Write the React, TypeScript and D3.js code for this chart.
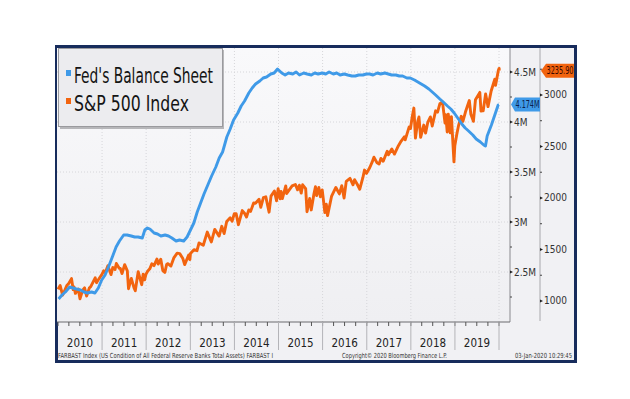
import React from "react";
import * as d3 from "d3";

const fedDates = [
  "2010-01-06","2010-02-03","2010-03-03","2010-04-07","2010-05-05","2010-06-02","2010-07-07","2010-08-04","2010-09-01","2010-10-06","2010-11-03","2010-12-01","2010-12-29",
  "2011-01-26","2011-02-23","2011-03-30","2011-04-27","2011-05-25","2011-06-29","2011-07-27","2011-08-31","2011-09-28","2011-10-26","2011-11-30","2011-12-21",
  "2012-01-11","2012-02-01","2012-03-07","2012-04-04","2012-05-02","2012-06-06","2012-07-04","2012-08-01","2012-09-05","2012-10-03","2012-11-07","2012-12-05",
  "2013-01-02","2013-01-30","2013-02-27","2013-03-27","2013-04-24","2013-05-29","2013-06-26","2013-07-31","2013-08-28","2013-09-25","2013-10-30","2013-11-27","2013-12-25",
  "2014-01-29","2014-02-26","2014-03-26","2014-04-30","2014-05-28","2014-06-25","2014-07-30","2014-08-27","2014-09-24","2014-10-29","2014-11-26","2014-12-24",
  "2015-01-28","2015-02-25","2015-03-25","2015-04-29","2015-05-27","2015-06-24","2015-07-29","2015-08-26","2015-09-30","2015-10-28","2015-11-25","2015-12-30",
  "2016-01-27","2016-02-24","2016-03-30","2016-04-27","2016-05-25","2016-06-29","2016-07-27","2016-08-31","2016-09-28","2016-10-26","2016-11-30","2016-12-28",
  "2017-01-25","2017-02-22","2017-03-29","2017-04-26","2017-05-31","2017-06-28","2017-07-26","2017-08-30","2017-09-27","2017-10-25","2017-11-29","2017-12-27",
  "2018-01-31","2018-02-28","2018-03-28","2018-04-25","2018-05-30","2018-06-27","2018-07-25","2018-08-29","2018-09-26","2018-10-31","2018-11-28","2018-12-26",
  "2019-01-30","2019-02-27","2019-03-27","2019-04-24","2019-05-29","2019-06-26","2019-07-31","2019-08-28","2019-09-11","2019-09-25","2019-10-30","2019-11-27","2019-12-25","2020-01-01"
];
const fedValues = [
  2.23,2.27,2.30,2.35,2.34,2.33,2.32,2.30,2.29,2.30,2.29,2.34,2.42,
  2.47,2.55,2.66,2.75,2.81,2.87,2.87,2.86,2.85,2.85,2.84,2.92,
  2.94,2.93,2.89,2.88,2.86,2.87,2.86,2.84,2.81,2.82,2.81,2.85,
  2.92,2.99,3.10,3.19,3.28,3.38,3.46,3.55,3.64,3.70,3.85,3.93,4.02,
  4.09,4.16,4.21,4.29,4.34,4.38,4.41,4.44,4.45,4.48,4.49,4.53,
  4.49,4.47,4.49,4.48,4.50,4.47,4.49,4.48,4.47,4.49,4.48,4.49,
  4.48,4.50,4.48,4.49,4.47,4.48,4.47,4.46,4.46,4.47,4.47,4.48,
  4.48,4.47,4.49,4.48,4.49,4.48,4.47,4.47,4.46,4.46,4.44,4.44,
  4.42,4.40,4.38,4.36,4.33,4.30,4.27,4.23,4.20,4.16,4.13,4.09,
  4.03,3.98,3.94,3.91,3.87,3.83,3.80,3.77,3.76,3.86,3.97,4.07,4.17,4.174
];

const spxDates = [
  "2010-01-01","2010-01-19","2010-02-08","2010-02-26","2010-03-15","2010-03-31","2010-04-23","2010-05-07","2010-05-14","2010-05-25","2010-06-18","2010-07-02","2010-07-23","2010-08-09","2010-08-26","2010-09-17","2010-09-30","2010-10-15","2010-11-05","2010-11-16","2010-12-01","2010-12-31",
  "2011-01-14","2011-01-28","2011-02-18","2011-03-16","2011-03-31","2011-04-18","2011-04-29","2011-05-23","2011-06-01","2011-06-15","2011-07-07","2011-07-29","2011-08-08","2011-08-31","2011-09-22","2011-10-03","2011-10-27","2011-11-25","2011-12-07","2011-12-19","2011-12-30",
  "2012-01-13","2012-01-31","2012-02-17","2012-03-06","2012-03-30","2012-04-10","2012-05-01","2012-05-18","2012-06-04","2012-06-19","2012-06-29","2012-07-24","2012-08-17","2012-09-14","2012-10-05","2012-10-31","2012-11-15","2012-12-18","2012-12-28",
  "2013-01-02","2013-01-31","2013-02-25","2013-03-14","2013-04-18","2013-05-21","2013-06-24","2013-07-22","2013-08-27","2013-09-18","2013-10-08","2013-10-29","2013-11-27","2013-12-13","2013-12-31",
  "2014-01-15","2014-02-03","2014-03-07","2014-03-27","2014-04-11","2014-04-30","2014-05-15","2014-06-09","2014-06-24","2014-07-24","2014-08-07","2014-08-29","2014-09-18","2014-10-15","2014-10-31","2014-11-28","2014-12-16","2014-12-29",
  "2015-01-15","2015-01-22","2015-02-02","2015-03-02","2015-03-10","2015-04-24","2015-05-21","2015-06-08","2015-06-23","2015-07-08","2015-07-20","2015-08-14","2015-08-25","2015-09-16","2015-09-29","2015-10-20","2015-11-03","2015-11-13","2015-12-01","2015-12-14","2015-12-29",
  "2016-01-20","2016-02-01","2016-02-11","2016-03-15","2016-04-20","2016-05-19","2016-06-08","2016-06-27","2016-07-15","2016-08-15","2016-09-09","2016-09-22","2016-10-14","2016-11-04","2016-11-30","2016-12-13","2016-12-30",
  "2017-01-26","2017-02-15","2017-03-01","2017-03-27","2017-04-13","2017-04-28","2017-05-17","2017-06-19","2017-06-29","2017-07-27","2017-08-18","2017-09-20","2017-10-13","2017-11-08","2017-11-15","2017-12-18","2017-12-29",
  "2018-01-12","2018-01-26","2018-02-08","2018-02-27","2018-03-09","2018-03-23","2018-04-18","2018-05-03","2018-05-21","2018-06-12","2018-06-27","2018-07-25","2018-08-10","2018-08-29","2018-09-20","2018-10-11","2018-10-17","2018-10-29","2018-11-07","2018-11-23","2018-12-03","2018-12-24","2018-12-31",
  "2019-01-15","2019-01-31","2019-02-22","2019-03-08","2019-03-29","2019-04-30","2019-05-13","2019-06-03","2019-06-20","2019-07-26","2019-08-05","2019-08-15","2019-08-23","2019-09-12","2019-10-02","2019-10-28","2019-11-27","2019-12-03","2019-12-27","2020-01-02","2020-01-03"
];
const spxValues = [
  1115,1150,1056,1104,1150,1169,1217,1110,1136,1074,1117,1022,1102,1128,1047,1125,1141,1176,1225,1178,1206,1258,
  1293,1276,1343,1256,1326,1305,1364,1317,1315,1266,1353,1292,1119,1219,1129,1099,1285,1158,1261,1205,1258,
  1289,1312,1361,1343,1408,1358,1405,1295,1278,1357,1362,1339,1418,1465,1460,1412,1353,1446,1402,
  1462,1498,1488,1563,1541,1669,1573,1695,1630,1725,1655,1771,1807,1775,1848,
  1848,1741,1878,1849,1815,1884,1870,1951,1949,1988,1910,2003,2011,1862,2018,2068,1972,2090,
  1992,2063,1994,2117,2044,2117,2131,2079,2124,2047,2128,2091,1867,1995,1884,2030,2109,2023,2102,2012,2078,
  1859,1940,1829,2015,2102,2040,2119,2000,2161,2190,2128,2177,2133,2085,2199,2271,2239,
  2296,2350,2396,2341,2329,2384,2357,2453,2419,2475,2426,2508,2553,2594,2564,2690,2674,
  2786,2873,2581,2744,2786,2588,2708,2630,2733,2787,2699,2846,2833,2914,2931,2728,2809,2641,2814,2633,2790,2351,2507,
  2610,2704,2793,2743,2834,2946,2812,2744,2954,3025,2844,2847,2847,3009,2887,3039,3153,3093,3240,3258,3235.9
];

const years = [2010,2011,2012,2013,2014,2015,2016,2017,2018,2019];
const fedTicks = [2.5,3,3.5,4,4.5];
const fedTickLabels = ["2.5M","3M","3.5M","4M","4.5M"];
const spxTicks = [1000,1500,2000,2500,3000];
const spxTickLabels = ["1000","1500","2000","2500","3000"];
const seriesNames = ["Fed's Balance Sheet","S&P 500 Index"];
const lastFed = 4.174;
const lastSpx = 3235.9;

const BLUE = "#3f9ae8";
const ORANGE = "#f2640f";
const FONT = "'DejaVu Sans Condensed','Liberation Sans Narrow','Roboto Condensed',Roboto,sans-serif";

export default function App() {
  const left = 57, right = 510, top = 48, bottom = 322;
  const parse = d3.timeParse("%Y-%m-%d");
  const x = d3.scaleTime().domain([new Date(2010,0,1), new Date(2020,3,1)]).range([58, right]);
  const yFed = d3.scaleLinear().domain([2.0, 4.74]).range([bottom, top]);
  const ySpx = d3.scaleLinear().domain([796, 3456]).range([bottom, top]);

  const fed = fedDates.map((d, i) => ({ d: parse(d)!, v: fedValues[i] }));
  const spx = spxDates.map((d, i) => ({ d: parse(d)!, v: spxValues[i] }));
  const fedLine = d3.line<{d: Date; v: number}>().x(p => x(p.d)).y(p => yFed(p.v));
  const spxLine = d3.line<{d: Date; v: number}>().x(p => x(p.d)).y(p => ySpx(p.v));

  const yearStarts = d3.range(2011, 2021).map(y => new Date(y, 0, 1));
  const quarters = d3.timeMonth.every(3)!.range(new Date(2010,0,1), new Date(2020,3,1));
  const fedMinor = d3.range(2.25, 4.75, 0.5);
  const spxMinor = d3.range(1250, 3500, 500);

  const fb = yFed(lastFed);
  const sb = ySpx(lastSpx);

  return (
    <svg width={630} height={399} style={{ position: "absolute", left: 0, top: 0, background: "#fff" }} fontFamily={FONT}>
      <defs>
        <linearGradient id="bg" x1="0" y1="0" x2="0" y2="1">
          <stop offset="0" stopColor="#f9f9fb" />
          <stop offset="1" stopColor="#efeff2" />
        </linearGradient>
      </defs>
      <rect x={56.5} y={46.5} width={519} height={315} fill="#f1f1f4" stroke="#172c5c" strokeWidth={3} />
      <rect x={left} y={top} width={right - left} height={bottom - top} fill="url(#bg)" />
      {fedTicks.map(t => (
        <line key={"gh" + t} x1={left} x2={right} y1={yFed(t)} y2={yFed(t)} stroke="#d6d6da" strokeDasharray="1,2" />
      ))}
      {yearStarts.map((d, i) => (
        <line key={"gv" + i} x1={x(d)} x2={x(d)} y1={top} y2={bottom} stroke="#d6d6da" strokeDasharray="1,2" />
      ))}
      <line x1={right} x2={right} y1={top} y2={bottom} stroke="#8a8a8e" />
      <line x1={left} x2={right} y1={bottom} y2={bottom} stroke="#6a6a6e" />
      {quarters.map((d, i) => (
        <line key={"q" + i} x1={x(d)} x2={x(d)} y1={bottom} y2={bottom + 4} stroke="#555" />
      ))}
      {yearStarts.map((d, i) => (
        <line key={"ys" + i} x1={x(d)} x2={x(d)} y1={bottom} y2={350} stroke="#b4b4b8" />
      ))}
      {years.map(yv => (
        <text key={"yl" + yv} x={(x(new Date(yv, 0, 1)) + x(new Date(yv + 1, 0, 1))) / 2} y={347} fontSize={11.5}
          textAnchor="middle" fill="#222" fontStretch="condensed">{yv}</text>
      ))}
      <line x1={540} x2={540} y1={top} y2={bottom - 1} stroke="#a8a8ac" />
      {fedMinor.map(t => (
        <line key={"fm" + t} x1={right} x2={right + 2} y1={yFed(t)} y2={yFed(t)} stroke="#444" />
      ))}
      {fedTicks.map((t, i) => (
        <g key={"ft" + t}>
          <path d={`M${right},${yFed(t) - 1.5}L${right + 3},${yFed(t)}L${right},${yFed(t) + 1.5}Z`} fill="#222" />
          <text x={right + 4} y={yFed(t) + 3.5} fontSize={10} fill="#333" fontStretch="condensed">{fedTickLabels[i]}</text>
        </g>
      ))}
      {spxMinor.map(t => (
        <line key={"sm" + t} x1={540} x2={542} y1={ySpx(t)} y2={ySpx(t)} stroke="#444" />
      ))}
      {spxTicks.map((t, i) => (
        <g key={"st" + t}>
          <path d={`M540,${ySpx(t) - 1.5}L543,${ySpx(t)}L540,${ySpx(t) + 1.5}Z`} fill="#222" />
          <text x={544} y={ySpx(t) + 3.5} fontSize={10} fill="#333" fontStretch="condensed">{spxTickLabels[i]}</text>
        </g>
      ))}
      <path d={spxLine(spx)!} fill="none" stroke={ORANGE} strokeWidth={2.9} strokeLinejoin="round" />
      <path d={fedLine(fed)!} fill="none" stroke={BLUE} strokeWidth={2.9} strokeLinejoin="round" />
      <path d={`M511,${fb}L515,${fb - 7}L540,${fb - 7}L540,${fb + 7}L515,${fb + 7}Z`} fill={BLUE} />
      <text x={527.5} y={fb + 3.5} fontSize={10} textAnchor="middle" fill="#0b1f4d" textLength={24} lengthAdjust="spacingAndGlyphs">4.174M</text>
      <path d={`M541,${sb}L546,${sb - 7}L574,${sb - 7}L574,${sb + 7}L546,${sb + 7}Z`} fill={ORANGE} />
      <text x={560} y={sb + 3.5} fontSize={10} textAnchor="middle" fill="#3a0800" textLength={27} lengthAdjust="spacingAndGlyphs">{lastSpx.toFixed(2)}</text>
      <rect x={60} y={50} width={164} height={79} fill="#8c8c90" opacity={0.6} />
      <rect x={58.5} y={48.5} width={164} height={78} fill="#ececef" stroke="#9a9a9e" />
      <rect x={66} y={70} width={5} height={6} fill={BLUE} />
      <rect x={66} y={98} width={5} height={6} fill={ORANGE} />
      <text x={74} y={83} fontSize={21} fill="#141414" textLength={139} lengthAdjust="spacingAndGlyphs">{seriesNames[0]}</text>
      <text x={74} y={111} fontSize={21} fill="#141414" textLength={115} lengthAdjust="spacingAndGlyphs">{seriesNames[1]}</text>
      <text x={58} y={358} fontSize={7} fill="#333" textLength={215} lengthAdjust="spacingAndGlyphs">FARBAST Index (US Condition of All Federal Reserve Banks Total Assets) FARBAST I</text>
      <text x={342} y={358} fontSize={7} fill="#333" textLength={105} lengthAdjust="spacingAndGlyphs">Copyright© 2020 Bloomberg Finance L.P.</text>
      <text x={515} y={358} fontSize={7} fill="#333" textLength={57} lengthAdjust="spacingAndGlyphs">03-Jan-2020 10:29:45</text>
    </svg>
  );
}
